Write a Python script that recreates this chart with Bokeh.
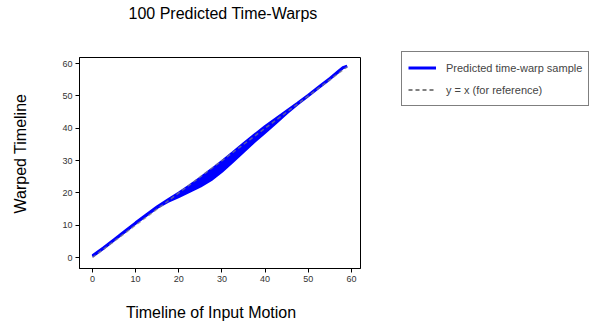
import math
from bokeh.plotting import figure
from bokeh.models import Legend, LegendItem, Range1d, FixedTicker, Title
from bokeh.embed import file_html
from bokeh.resources import INLINE

# ---- data ----
timeline = [0, 2.5, 5, 7.5, 10, 12.5, 15, 17.5, 20, 22.5, 25, 27.5, 30, 32.5,
            35, 37.5, 40, 42.5, 45, 47.5, 50, 52.5, 55, 57, 58, 59]
warp_upper = [0.6, 3.0, 5.6, 8.2, 10.8, 13.3, 15.8, 17.9, 20.0, 22.3, 24.7, 27.2,
              29.8, 32.5, 35.3, 38.0, 40.6, 43.0, 45.4, 47.8, 50.3, 52.9, 55.5,
              57.7, 58.8, 59.3]
warp_lower = [0.3, 2.7, 5.3, 7.9, 10.5, 13.0, 15.4, 17.3, 18.8, 20.4, 22.0, 24.0,
              26.6, 29.6, 32.7, 35.8, 38.7, 41.6, 44.6, 47.4, 50.0, 52.6, 55.2,
              57.4, 58.6, 59.1]
ref_x = [0, 59]
ref_y = [0, 59]
ticks = [0, 10, 20, 30, 40, 50, 60]

FONT = "Liberation Sans"

p = figure(frame_width=281, frame_height=211, output_backend="svg", toolbar_location=None,
           x_range=Range1d(-3.0, 62.1), y_range=Range1d(-3.4, 61.9),
           min_border_left=79, min_border_right=229, min_border_top=57,
           min_border_bottom=60, title="100 Predicted Time-Warps")

def spacer(standoff):
    return Title(text=" ", standoff=standoff, text_font=FONT, text_font_size="2px")

# main title (outermost slot)
p.title.align = "left"
p.title.offset = 49
p.title.standoff = 4
p.title.vertical_align = "top"
p.title.text_font = FONT
p.title.text_font_size = "16px"
p.title.text_font_style = "normal"
p.title.text_color = "black"
p.add_layout(spacer(28), "above")

p.grid.visible = False
p.outline_line_color = "black"
p.outline_line_width = 1
p.background_fill_color = "white"
p.border_fill_color = "white"

for ax in (p.xaxis[0], p.yaxis[0]):
    ax.ticker = FixedTicker(ticks=ticks)
    ax.minor_tick_line_color = None
    ax.major_tick_in = 0
    ax.major_tick_out = 4
    ax.major_tick_line_color = "black"
    ax.axis_line_color = "black"
    ax.major_label_text_font = FONT
    ax.major_label_text_font_size = "9px"
    ax.major_label_text_color = "#333333"
    ax.major_label_standoff = 3

p.add_layout(spacer(11), "below")
xlab = Title(text="Timeline of Input Motion", align="left", offset=46.5, standoff=4,
             vertical_align="bottom",
             text_font=FONT, text_font_size="16px", text_font_style="normal",
             text_color="black")
p.add_layout(xlab, "below")

p.add_layout(spacer(22.5), "left")
ylab = Title(text="Warped Timeline", align="left", offset=55, standoff=4,
             vertical_align="top",
             text_font=FONT, text_font_size="16px", text_font_style="normal",
             text_color="black")
p.add_layout(ylab, "left")

# band of samples
p.varea(x=timeline, y1=warp_lower, y2=warp_upper, fill_color="blue", fill_alpha=1.0)
p.line(timeline, warp_upper, line_color="blue", line_width=2.5)
p.line(timeline, warp_lower, line_color="blue", line_width=2.5)
# reference y = x
p.line(ref_x, ref_y, line_color="gray", line_width=1.5, line_dash="4 3", line_alpha=0.7)

# legend proxies (single point: nothing drawn in the plot, glyph shown in legend)
r_blue = p.line([timeline[0]], [warp_upper[0]], line_color="blue", line_width=3)
r_ref = p.line([ref_x[0]], [ref_y[0]], line_color="gray", line_width=2, line_dash="4 3")
legend = Legend(items=[LegendItem(label="Predicted time-warp sample", renderers=[r_blue]),
                       LegendItem(label="y = x (for reference)", renderers=[r_ref])],
                location=(41, 162), orientation="vertical",
                label_text_font=FONT, label_text_font_size="11px",
                glyph_width=28, glyph_height=19, label_height=19,
                spacing=3, label_standoff=10, padding=6, margin=0,
                border_line_color="black", border_line_width=1,
                background_fill_color="white", background_fill_alpha=1.0)
p.add_layout(legend, "right")

open("out.html", "w").write(file_html(p, INLINE))
